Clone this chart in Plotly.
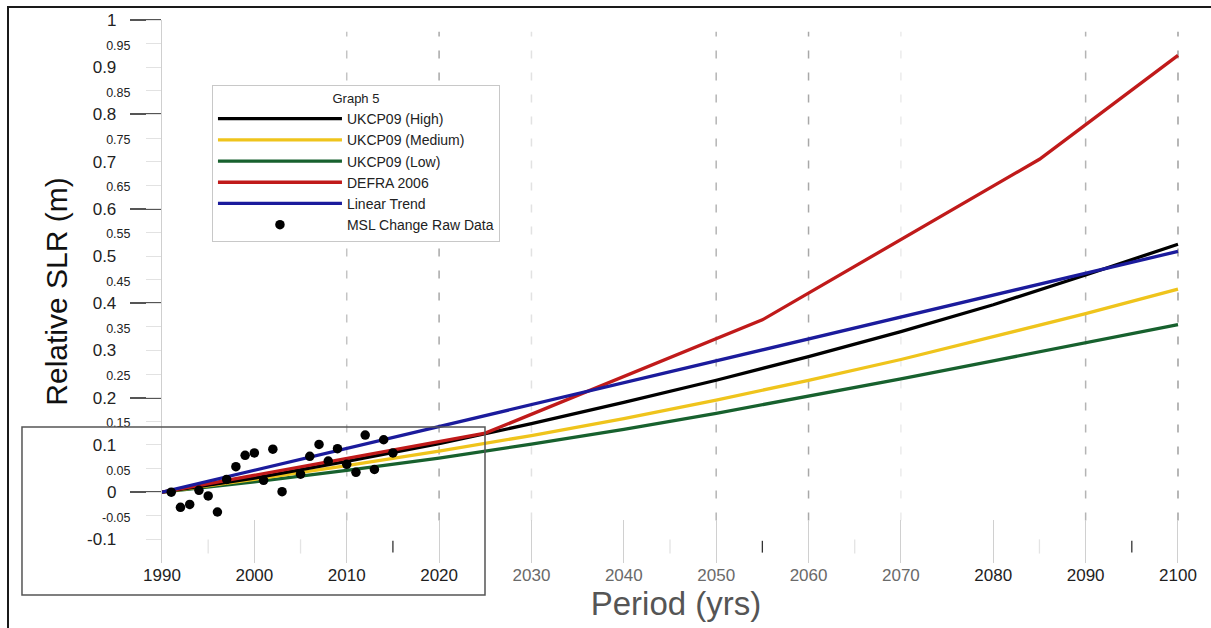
import plotly.graph_objects as go

# ---------------- data ----------------
DECADES = [1990, 2000, 2010, 2020, 2030, 2040, 2050, 2060, 2070, 2080, 2090, 2100]
UKCP09_HIGH = [0.0, 0.030, 0.065, 0.103, 0.145, 0.190, 0.237, 0.287, 0.340, 0.397, 0.460, 0.525]
UKCP09_MEDIUM = [0.0, 0.027, 0.056, 0.087, 0.120, 0.156, 0.195, 0.237, 0.281, 0.329, 0.378, 0.430]
UKCP09_LOW = [0.0, 0.022, 0.046, 0.072, 0.102, 0.133, 0.167, 0.203, 0.240, 0.278, 0.316, 0.355]

DEFRA_YEARS = [1990, 2025, 2055, 2085, 2100]
DEFRA_2006 = [0.0, 0.125, 0.365, 0.705, 0.925]

TREND_YEARS = [1990, 2100]
LINEAR_TREND = [0.0, 0.51]

MSL_YEARS = [1991, 1992, 1993, 1994, 1995, 1996, 1997, 1998, 1999, 2000, 2001, 2002,
             2003, 2005, 2006, 2007, 2008, 2009, 2010, 2011, 2012, 2013, 2014, 2015]
MSL_CHANGE = [0.000, -0.032, -0.026, 0.004, -0.008, -0.042, 0.027, 0.054, 0.078, 0.083,
              0.025, 0.091, 0.001, 0.038, 0.076, 0.101, 0.066, 0.092, 0.059, 0.042,
              0.121, 0.048, 0.111, 0.083]

Y_TICK_VALUES = [-0.1, -0.05, 0, 0.05, 0.1, 0.15, 0.2, 0.25, 0.3, 0.35, 0.4, 0.45, 0.5,
                 0.55, 0.6, 0.65, 0.7, 0.75, 0.8, 0.85, 0.9, 0.95, 1.0]
Y_TICK_LABELS = ["-0.1", "-0.05", "0", "0.05", "0.1", "0.15", "0.2", "0.25", "0.3", "0.35",
                 "0.4", "0.45", "0.5", "0.55", "0.6", "0.65", "0.7", "0.75", "0.8", "0.85",
                 "0.9", "0.95", "1"]
Y_MAJOR_TICKS = [0, 0.2, 0.4, 0.6, 0.8, 1.0]

X_TICK_YEARS = DECADES
X_TICK_LABELS = ["1990", "2000", "2010", "2020", "2030", "2040", "2050", "2060", "2070",
                 "2080", "2090", "2100"]

GRID_YEARS = [2010, 2020, 2030, 2050, 2060, 2070, 2090, 2100]
GRID_COLORS = ["#c4c4c4", "#a8a8a8", "#e2e2e2", "#b4b4b4", "#a8a8a8", "#ececec", "#b4b4b4", "#a0a0a0"]
MID_TICK_YEARS = [2015, 2055, 2095]
FAINT_TICK_YEARS = [1995, 2005, 2045, 2065, 2085]

FONT = "Arial, 'Liberation Sans', sans-serif"

# ---------------- figure ----------------
fig = go.Figure()

line_w = 3.3
fig.add_trace(go.Scatter(x=DECADES, y=UKCP09_LOW, mode="lines", name="UKCP09 (Low)",
                         line=dict(color="#17612e", width=line_w), legendrank=3))
fig.add_trace(go.Scatter(x=DECADES, y=UKCP09_MEDIUM, mode="lines", name="UKCP09 (Medium)",
                         line=dict(color="#efc41c", width=line_w), legendrank=2))
fig.add_trace(go.Scatter(x=DECADES, y=UKCP09_HIGH, mode="lines", name="UKCP09 (High)",
                         line=dict(color="#000000", width=line_w), legendrank=1))
fig.add_trace(go.Scatter(x=DEFRA_YEARS, y=DEFRA_2006, mode="lines", name="DEFRA 2006",
                         line=dict(color="#c01a1a", width=line_w), legendrank=4))
fig.add_trace(go.Scatter(x=TREND_YEARS, y=LINEAR_TREND, mode="lines", name="Linear Trend",
                         line=dict(color="#1b1b9c", width=line_w), legendrank=5))
fig.add_trace(go.Scatter(x=MSL_YEARS, y=MSL_CHANGE, mode="markers", name="MSL Change Raw Data",
                         marker=dict(color="#000000", size=9.5), legendrank=6))

# y tick labels: tenths large, odd twentieths small
y_text = []
for v, lab in zip(Y_TICK_VALUES, Y_TICK_LABELS):
    if round(v * 100) % 10 == 0:
        y_text.append(lab + "\u00a0\u00a0\u00a0")
    else:
        y_text.append("<span style='font-size:12.5px'>" + lab + "</span>")

x_text = []
for yr, lab in zip(X_TICK_YEARS, X_TICK_LABELS):
    col = "#6a6a6a" if 2030 <= yr <= 2070 else "#1e1e1e"
    x_text.append("<span style='color:%s'>%s</span>" % (col, lab))

shapes = []
for yr, col in zip(GRID_YEARS, GRID_COLORS):
    shapes.append(dict(type="line", xref="x", yref="y", x0=yr, x1=yr, y0=-0.06, y1=0.975,
                       line=dict(color=col, width=1.5, dash="8px,14px"), layer="below"))
for yr in MID_TICK_YEARS:
    shapes.append(dict(type="line", xref="x", yref="y", x0=yr, x1=yr, y0=-0.128, y1=-0.103,
                       line=dict(color="#333333", width=1.3), layer="below"))
for yr in FAINT_TICK_YEARS:
    shapes.append(dict(type="line", xref="x", yref="y", x0=yr, x1=yr, y0=-0.13, y1=-0.1,
                       line=dict(color="#e4e4e4", width=1.3), layer="below"))
# inset box overlay
shapes.append(dict(type="rect", xref="paper", yref="paper", x0=-0.1362, x1=0.3142,
                   y0=-0.0589, y1=0.2505, line=dict(color="#555555", width=1.5), layer="above"))
# outer image frame (top and left)
shapes.append(dict(type="path", xref="paper", yref="paper",
                   path="M -0.1498 -0.2 L -0.1498 1.0239 L 1.2 1.0239",
                   line=dict(color="#1a1a1a", width=2), layer="above"))

fig.update_layout(
    width=1211, height=628,
    margin=dict(l=162, r=21, t=20, b=65),
    paper_bgcolor="white", plot_bgcolor="white",
    font=dict(family=FONT, color="#222222"),
    showlegend=True,
    legend=dict(
        x=0.0486, y=0.880, xanchor="left", yanchor="top",
        bgcolor="white", bordercolor="#c8c8c8", borderwidth=1,
        font=dict(size=14, color="#222222", family=FONT),
        itemwidth=124,
        title=dict(text="Graph 5", side="top center", font=dict(size=13, color="#222222")),
        tracegroupgap=0,
    ),
    shapes=shapes,
    xaxis=dict(
        range=[1990, 2101.3], showgrid=False, zeroline=False, showline=False,
        tickmode="array", tickvals=X_TICK_YEARS, ticktext=x_text,
        ticks="inside", ticklen=43, tickcolor="#d0d0d0", tickwidth=1.2,
        tickfont=dict(size=17, family=FONT),
        title=dict(text="Period (yrs)", font=dict(size=33, color="#555555", family=FONT), standoff=4),
    ),
    yaxis=dict(
        range=[-0.15, 1.0], showgrid=False, zeroline=False,
        showline=True, linecolor="#cfcfcf", linewidth=1.2,
        tickmode="array", tickvals=Y_TICK_VALUES, ticktext=y_text,
        ticks="outside", ticklen=15, tickcolor="#e2e2e2", tickwidth=1.2,
        ticklabelstandoff=12,
        tickfont=dict(size=17, family=FONT, color="#222222"),
        minor=dict(tickmode="array", tickvals=Y_MAJOR_TICKS, ticks="outside", ticklen=31,
                   tickcolor="#555555", tickwidth=1.5, showgrid=False),
        title=dict(text="Relative SLR (m)", font=dict(size=30, color="#111111", family=FONT), standoff=10),
    ),
)

fig.write_html("out.html", config={"displayModeBar": False},
               post_script="document.body.style.margin='0';document.body.style.overflow='hidden';")
